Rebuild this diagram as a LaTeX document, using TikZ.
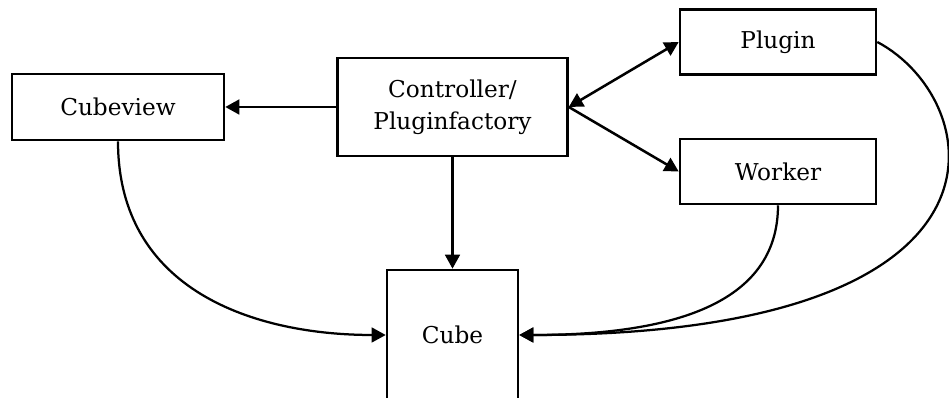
\documentclass[tikz,border=0pt]{standalone}
\usepackage{fontspec}
\setmainfont{DejaVu Serif}
\usetikzlibrary{arrows.meta}

\tikzset{
  every block/.style={draw, line width=1.8pt, align=center, inner sep=0pt,
    font=\fontsize{16.5}{22.7}\selectfont},
  block cubeview/.style={minimum width=5.3cm, minimum height=1.65cm},
  block controller/.style={minimum width=5.75cm, minimum height=2.45cm},
  block plugin/.style={minimum width=4.9cm, minimum height=1.625cm},
  block worker/.style={minimum width=4.9cm, minimum height=1.625cm},
  block cube/.style={minimum width=3.275cm, minimum height=3.25cm},
  link/.style={line width=1.6pt}
}

\begin{document}
\begin{tikzpicture}[x=0.025cm, y=0.025cm, line width=1.8pt,
    >={Triangle[length=10pt, width=10.5pt]}]
  \useasboundingbox (0,0) rectangle (949,398);

  \node [every block/.try, block cubeview/.try](cubeview) at (118, 291) {Cubeview};
  \node [every block/.try, block controller/.try](controller) at (452.5, 291) {Controller/\\Pluginfactory};
  \foreach \m/\l/\y in {plugin/Plugin/356, worker/Worker/226.5}
    \node [every block/.try, block \m/.try](\m) at (778, \y) {\l};
  \node [every block/.try, block cube/.try](cube) at (452.5, 63) {Cube};

  \draw [->] (controller.west) -- (cubeview.east);
  \draw [->] (controller.south) -- (cube.north);
  \draw [<->] (controller.east) -- (plugin.west);
  \draw [->] (controller.east) -- (worker.west);

  % bent links into the cube
  \draw [->, link] (cubeview.south) .. controls +(0,-150) and +(-130,0) .. (cube.west);
  \draw [->, link] (worker.south) .. controls +(0,-100) and +(150,0) .. (cube.east);
  \draw [->, link] (plugin.east) .. controls +(108,-57) and +(518,0) .. (cube.east);
\end{tikzpicture}
\end{document}
